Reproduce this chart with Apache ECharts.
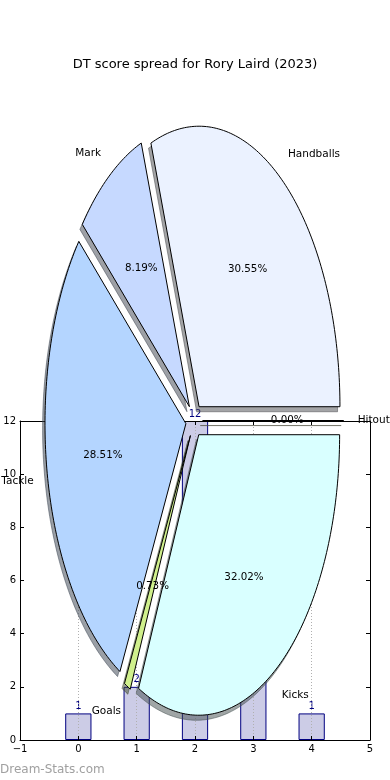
<!DOCTYPE html>
<html>
<head>
<meta charset="utf-8">
<script src="https://cdn.jsdelivr.net/npm/echarts@6/dist/echarts.min.js"></script>
<style>
html,body{margin:0;padding:0;background:#fff;}
#chart{width:390px;height:780px;}
</style>
</head>
<body>
<div id="chart"></div>
<script>
// ---- data ----
var barX = [0, 1, 2, 3, 4];
var barValues = [1, 2, 12, 7, 1];
var xTicks = [-1, 0, 1, 2, 3, 4, 5];
var yTicks = [0, 2, 4, 6, 8, 10, 12];
var pieNames = ['Handballs', 'Mark', 'Tackle', 'Goals', 'Kicks', 'Hitout'];
var piePercents = [30.55, 8.19, 28.51, 0.73, 32.02, 0.00];

// ---- styles ----
var pieColors = ['#EBF2FF', '#C6D9FF', '#B4D5FF', '#D0F08C', '#D9FFFF', '#FFFFCC'];
var FONT = 'DejaVu Sans';
var explode = 0.06;
var shadowDX = -0.017, shadowDY = -0.018;

function shadowOf(hex) {
  var r = parseInt(hex.substr(1, 2), 16), g = parseInt(hex.substr(3, 2), 16), b = parseInt(hex.substr(5, 2), 16);
  return 'rgba(' + Math.round(r * 0.3) + ',' + Math.round(g * 0.3) + ',' + Math.round(b * 0.3) + ',0.5)';
}

var chart = echarts.init(document.getElementById('chart'), null, {renderer: 'canvas'});

var axisLbl = {fontSize: 10, fontFamily: FONT, color: '#000'};
var frameLine = {show: true, onZero: false, lineStyle: {color: '#000', width: 1}};
var inTick = {show: true, inside: true, length: 4, lineStyle: {color: '#000', width: 1}};

function renderWedge(params, api) {
  var i = params.dataIndex;
  var start = 0;
  for (var k = 0; k < i; k++) start += piePercents[k];
  var t1 = start * 3.6 * Math.PI / 180;
  var t2 = (start + piePercents[i]) * 3.6 * Math.PI / 180;
  var tm = (t1 + t2) / 2;
  var ex = explode * Math.cos(tm), ey = explode * Math.sin(tm);
  var pts = [[ex, ey]];
  var n = Math.max(1, Math.ceil((t2 - t1) / (Math.PI / 180)));
  for (var j = 0; j <= n; j++) {
    var t = t1 + (t2 - t1) * j / n;
    pts.push([ex + Math.cos(t), ey + Math.sin(t)]);
  }
  var px = pts.map(function (p) { return api.coord(p); });
  var sh = pts.map(function (p) { return api.coord([p[0] + shadowDX, p[1] + shadowDY]); });
  var lp = api.coord([ex + 1.1 * Math.cos(tm), ey + 1.1 * Math.sin(tm)]);
  var pp = api.coord([ex + 0.6 * Math.cos(tm), ey + 0.6 * Math.sin(tm)]);
  var lx = ex + 1.1 * Math.cos(tm);
  var col = pieColors[i];
  return {
    type: 'group',
    children: [
      {type: 'polygon', shape: {points: sh}, style: {fill: shadowOf(col), stroke: shadowOf(col), lineWidth: 1}, z2: 1},
      {type: 'polygon', shape: {points: px}, style: {fill: col, stroke: '#000', lineWidth: 1}, z2: 5},
      {type: 'text', x: lp[0], y: lp[1], style: {text: pieNames[i], align: lx > 0 ? 'left' : 'right', verticalAlign: 'middle', fill: '#000', font: '10.5px "' + FONT + '"'}, z2: 10},
      {type: 'text', x: pp[0], y: pp[1], style: {text: piePercents[i].toFixed(2) + '%', align: 'center', verticalAlign: 'middle', fill: '#000', font: '10.3px "' + FONT + '"'}, z2: 10}
    ]
  };
}

var option = {
  animation: false,
  backgroundColor: '#fff',
  title: {
    text: 'DT score spread for Rory Laird (2023)',
    left: 'center', top: 53,
    textStyle: {fontSize: 13, fontWeight: 'normal', fontFamily: FONT, color: '#000'}
  },
  graphic: [{
    type: 'text', left: 0, top: 764,
    style: {text: 'Dream-Stats.com', fill: '#a0a0a0', font: '12px "' + FONT + '"'}
  }],
  grid: [
    {left: 20, right: 20, top: 421, bottom: 40, containLabel: false},
    {left: 53.3, width: 281.8, top: 140, height: 561, containLabel: false}
  ],
  xAxis: [
    {gridIndex: 0, type: 'value', min: xTicks[0], max: xTicks[xTicks.length - 1], interval: 1, z: 3,
     axisLine: frameLine, axisTick: inTick,
     axisLabel: Object.assign({margin: 4, formatter: function (v) { return String(v).replace('-', '\u2212'); }}, axisLbl),
     splitLine: {show: true, lineStyle: {color: '#b0b0b0', type: [1, 2], width: 1}}},
    {gridIndex: 0, type: 'value', position: 'top', min: xTicks[0], max: xTicks[xTicks.length - 1], interval: 1, z: 3,
     axisLine: frameLine, axisTick: inTick, axisLabel: {show: false}, splitLine: {show: false}},
    {gridIndex: 1, type: 'value', min: -1, max: 1, show: false}
  ],
  yAxis: [
    {gridIndex: 0, type: 'value', position: 'left', min: yTicks[0], max: yTicks[yTicks.length - 1], interval: 2, z: 3,
     axisLine: frameLine, axisTick: inTick, axisLabel: Object.assign({margin: 4}, axisLbl),
     splitLine: {show: false}},
    {gridIndex: 0, type: 'value', position: 'right', min: yTicks[0], max: yTicks[yTicks.length - 1], interval: 2, z: 3,
     axisLine: frameLine, axisTick: inTick, axisLabel: {show: false}, splitLine: {show: false}},
    {gridIndex: 1, type: 'value', min: -1, max: 1, show: false}
  ],
  series: [
    {
      type: 'bar', xAxisIndex: 0, yAxisIndex: 0, z: 2,
      barWidth: 0.45 * 350 / 6,
      data: barX.map(function (x, i) { return [x, barValues[i]]; }),
      itemStyle: {color: '#CCCCE6', borderColor: '#000080', borderWidth: 1},
      label: {show: true, position: 'top', distance: 2, color: '#000080', fontSize: 10, fontFamily: FONT,
              formatter: function (p) { return p.value[1]; }}
    },
    {
      type: 'custom', xAxisIndex: 2, yAxisIndex: 2, z: 10,
      data: piePercents.map(function (v, i) { return [i, v]; }),
      renderItem: renderWedge
    }
  ]
};
chart.setOption(option);
</script>
</body>
</html>
